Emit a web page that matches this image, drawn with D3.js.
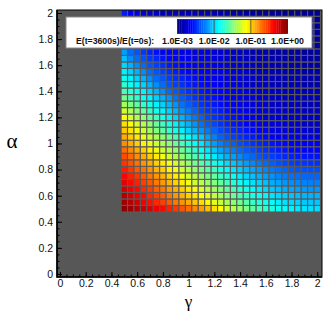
<!DOCTYPE html>
<html>
<head>
<meta charset="utf-8">
<script src="https://cdn.jsdelivr.net/npm/d3@7/dist/d3.min.js"></script>
<style>
	body { margin: 0; background: #fff; }
	text { font-family: 'Liberation Sans', Arial, sans-serif; }
</style>
</head>
<body>
<div id="chart"></div>
<script>
// grid of the run parameters
var gammaVals = [0.5, 0.55, 0.6, 0.65, 0.7, 0.75, 0.8, 0.85, 0.9, 0.95, 1.0, 1.05, 1.1, 1.15, 1.2, 1.25,
	1.3, 1.35, 1.4, 1.45, 1.5, 1.55, 1.6, 1.65, 1.7, 1.75, 1.8, 1.85, 1.9, 1.95, 2.0];
var alphaVals = [0.5, 0.55, 0.6, 0.65, 0.7, 0.75, 0.8, 0.85, 0.9, 0.95, 1.0, 1.05, 1.1, 1.15, 1.2, 1.25,
	1.3, 1.35, 1.4, 1.45, 1.5, 1.55, 1.6, 1.65, 1.7, 1.75, 1.8, 1.85, 1.9, 1.95, 2.0];

// log10 of E(t=3600s)/E(t=0s), one row per alpha (row 0 = alpha 0.5), one column per gamma
var logRatio = [
	[-0.04,-0.09,-0.15,-0.21,-0.26,-0.32,-0.39,-0.47,-0.54,-0.62,-0.69,-0.77,-0.84,-0.94,-1.03,-1.13,-1.24,-1.34,-1.43,-1.52,-1.6,-1.67,-1.73,-1.79,-1.84,-1.88,-1.91,-1.94,-1.96,-1.97,-1.97],
	[-0.09,-0.17,-0.24,-0.34,-0.41,-0.49,-0.56,-0.64,-0.73,-0.81,-0.88,-0.96,-1.03,-1.13,-1.2,-1.28,-1.38,-1.47,-1.55,-1.63,-1.7,-1.77,-1.82,-1.87,-1.92,-1.96,-1.99,-2.01,-2.03,-2.04,-2.04],
	[-0.15,-0.23,-0.32,-0.39,-0.49,-0.56,-0.64,-0.73,-0.81,-0.9,-0.98,-1.05,-1.14,-1.22,-1.31,-1.39,-1.48,-1.57,-1.65,-1.72,-1.79,-1.84,-1.9,-1.95,-1.99,-2.02,-2.05,-2.07,-2.09,-2.1,-2.1],
	[-0.23,-0.32,-0.39,-0.49,-0.56,-0.66,-0.73,-0.83,-0.9,-0.99,-1.07,-1.16,-1.24,-1.33,-1.41,-1.5,-1.59,-1.67,-1.75,-1.81,-1.88,-1.94,-1.99,-2.03,-2.07,-2.11,-2.13,-2.15,-2.17,-2.18,-2.18],
	[-0.3,-0.39,-0.47,-0.56,-0.64,-0.73,-0.83,-0.9,-0.99,-1.07,-1.16,-1.26,-1.33,-1.43,-1.5,-1.59,-1.68,-1.75,-1.83,-1.9,-1.96,-2.01,-2.06,-2.11,-2.14,-2.18,-2.2,-2.22,-2.24,-2.25,-2.25],
	[-0.38,-0.47,-0.54,-0.64,-0.73,-0.81,-0.9,-0.99,-1.07,-1.16,-1.26,-1.33,-1.43,-1.52,-1.59,-1.69,-1.77,-1.85,-1.92,-1.99,-2.05,-2.1,-2.15,-2.19,-2.23,-2.26,-2.29,-2.3,-2.32,-2.33,-2.33],
	[-0.45,-0.54,-0.64,-0.71,-0.81,-0.9,-0.99,-1.09,-1.16,-1.26,-1.35,-1.44,-1.54,-1.61,-1.71,-1.8,-1.88,-1.95,-2.02,-2.08,-2.13,-2.18,-2.23,-2.27,-2.3,-2.33,-2.36,-2.38,-2.39,-2.4,-2.4],
	[-0.53,-0.62,-0.71,-0.81,-0.88,-0.98,-1.07,-1.16,-1.26,-1.35,-1.44,-1.54,-1.61,-1.71,-1.8,-1.89,-1.97,-2.04,-2.1,-2.16,-2.22,-2.27,-2.31,-2.35,-2.39,-2.42,-2.44,-2.46,-2.47,-2.48,-2.48],
	[-0.6,-0.69,-0.79,-0.88,-0.98,-1.07,-1.16,-1.26,-1.37,-1.46,-1.56,-1.65,-1.74,-1.84,-1.93,-2.03,-2.1,-2.16,-2.22,-2.28,-2.33,-2.38,-2.42,-2.45,-2.48,-2.51,-2.53,-2.55,-2.56,-2.57,-2.57],
	[-0.69,-0.79,-0.88,-0.98,-1.09,-1.18,-1.28,-1.37,-1.46,-1.56,-1.65,-1.74,-1.86,-1.95,-2.04,-2.14,-2.2,-2.26,-2.32,-2.37,-2.41,-2.45,-2.49,-2.52,-2.55,-2.58,-2.6,-2.61,-2.62,-2.63,-2.63],
	[-0.79,-0.88,-0.98,-1.09,-1.18,-1.28,-1.37,-1.46,-1.58,-1.67,-1.76,-1.86,-1.95,-2.06,-2.16,-2.25,-2.3,-2.35,-2.4,-2.44,-2.48,-2.51,-2.54,-2.57,-2.59,-2.61,-2.63,-2.64,-2.65,-2.66,-2.66],
	[-0.88,-0.98,-1.07,-1.18,-1.28,-1.37,-1.46,-1.56,-1.67,-1.76,-1.86,-1.95,-2.04,-2.16,-2.25,-2.34,-2.39,-2.44,-2.48,-2.52,-2.55,-2.58,-2.61,-2.64,-2.66,-2.68,-2.69,-2.71,-2.71,-2.72,-2.72],
	[-0.96,-1.05,-1.16,-1.28,-1.39,-1.5,-1.61,-1.73,-1.82,-1.91,-2.01,-2.1,-2.19,-2.27,-2.34,-2.42,-2.46,-2.51,-2.54,-2.58,-2.61,-2.64,-2.66,-2.69,-2.71,-2.72,-2.74,-2.75,-2.75,-2.76,-2.76],
	[-1.03,-1.13,-1.24,-1.35,-1.46,-1.58,-1.69,-1.8,-1.91,-2.01,-2.1,-2.19,-2.29,-2.36,-2.42,-2.48,-2.52,-2.56,-2.59,-2.62,-2.65,-2.67,-2.7,-2.72,-2.73,-2.75,-2.76,-2.77,-2.78,-2.78,-2.78],
	[-1.13,-1.24,-1.35,-1.46,-1.58,-1.69,-1.8,-1.91,-2.01,-2.1,-2.19,-2.27,-2.34,-2.42,-2.48,-2.51,-2.55,-2.58,-2.61,-2.64,-2.67,-2.7,-2.72,-2.74,-2.75,-2.77,-2.78,-2.79,-2.8,-2.8,-2.8],
	[-1.28,-1.37,-1.48,-1.59,-1.71,-1.82,-1.91,-2.01,-2.1,-2.19,-2.27,-2.34,-2.42,-2.48,-2.51,-2.55,-2.59,-2.62,-2.65,-2.67,-2.7,-2.72,-2.74,-2.76,-2.78,-2.79,-2.8,-2.81,-2.82,-2.82,-2.82],
	[-1.41,-1.5,-1.61,-1.73,-1.82,-1.91,-2.01,-2.1,-2.19,-2.29,-2.36,-2.42,-2.48,-2.52,-2.56,-2.59,-2.62,-2.65,-2.68,-2.7,-2.72,-2.74,-2.76,-2.78,-2.79,-2.8,-2.81,-2.82,-2.83,-2.83,-2.83],
	[-1.54,-1.65,-1.74,-1.84,-1.91,-2.01,-2.1,-2.19,-2.29,-2.36,-2.42,-2.48,-2.52,-2.56,-2.59,-2.62,-2.65,-2.68,-2.7,-2.72,-2.74,-2.76,-2.78,-2.79,-2.81,-2.82,-2.82,-2.83,-2.84,-2.84,-2.84],
	[-1.65,-1.74,-1.84,-1.91,-2.01,-2.1,-2.21,-2.31,-2.36,-2.42,-2.48,-2.52,-2.56,-2.59,-2.62,-2.63,-2.66,-2.68,-2.71,-2.73,-2.75,-2.77,-2.79,-2.8,-2.82,-2.83,-2.83,-2.84,-2.85,-2.85,-2.85],
	[-1.74,-1.84,-1.91,-2.01,-2.1,-2.21,-2.31,-2.38,-2.44,-2.48,-2.53,-2.56,-2.59,-2.62,-2.63,-2.65,-2.68,-2.7,-2.73,-2.75,-2.77,-2.78,-2.8,-2.81,-2.83,-2.84,-2.85,-2.85,-2.86,-2.86,-2.86],
	[-1.84,-1.91,-2.01,-2.1,-2.21,-2.31,-2.38,-2.44,-2.49,-2.53,-2.57,-2.6,-2.63,-2.64,-2.66,-2.67,-2.7,-2.72,-2.74,-2.76,-2.78,-2.8,-2.81,-2.83,-2.84,-2.85,-2.86,-2.86,-2.87,-2.87,-2.87],
	[-1.91,-2.01,-2.1,-2.21,-2.31,-2.38,-2.44,-2.49,-2.55,-2.59,-2.62,-2.63,-2.65,-2.66,-2.68,-2.69,-2.71,-2.74,-2.76,-2.78,-2.8,-2.81,-2.83,-2.84,-2.85,-2.86,-2.87,-2.87,-2.88,-2.88,-2.88],
	[-1.99,-2.1,-2.21,-2.31,-2.38,-2.44,-2.49,-2.55,-2.59,-2.62,-2.63,-2.65,-2.67,-2.68,-2.7,-2.71,-2.73,-2.75,-2.77,-2.79,-2.81,-2.83,-2.84,-2.85,-2.86,-2.87,-2.88,-2.88,-2.89,-2.89,-2.89],
	[-2.06,-2.21,-2.31,-2.38,-2.46,-2.51,-2.57,-2.61,-2.63,-2.64,-2.66,-2.68,-2.69,-2.7,-2.72,-2.73,-2.75,-2.77,-2.79,-2.81,-2.83,-2.84,-2.85,-2.86,-2.87,-2.88,-2.89,-2.89,-2.9,-2.9,-2.9],
	[-2.16,-2.31,-2.38,-2.46,-2.53,-2.59,-2.63,-2.64,-2.66,-2.68,-2.69,-2.7,-2.71,-2.72,-2.73,-2.75,-2.77,-2.79,-2.81,-2.82,-2.84,-2.85,-2.87,-2.88,-2.88,-2.89,-2.9,-2.9,-2.91,-2.91,-2.91],
	[-2.23,-2.36,-2.43,-2.5,-2.56,-2.61,-2.64,-2.66,-2.68,-2.69,-2.7,-2.71,-2.72,-2.73,-2.74,-2.76,-2.78,-2.8,-2.82,-2.83,-2.85,-2.86,-2.88,-2.89,-2.89,-2.9,-2.91,-2.91,-2.92,-2.92,-2.92],
	[-2.3,-2.41,-2.48,-2.54,-2.59,-2.63,-2.66,-2.68,-2.7,-2.71,-2.72,-2.73,-2.74,-2.75,-2.76,-2.77,-2.79,-2.81,-2.82,-2.84,-2.85,-2.87,-2.88,-2.89,-2.9,-2.9,-2.91,-2.91,-2.92,-2.92,-2.92],
	[-2.37,-2.46,-2.52,-2.57,-2.62,-2.65,-2.68,-2.7,-2.71,-2.72,-2.73,-2.74,-2.75,-2.76,-2.77,-2.78,-2.8,-2.82,-2.83,-2.85,-2.86,-2.88,-2.89,-2.9,-2.91,-2.91,-2.92,-2.92,-2.93,-2.93,-2.93],
	[-2.43,-2.5,-2.56,-2.6,-2.64,-2.67,-2.7,-2.71,-2.72,-2.73,-2.74,-2.75,-2.76,-2.77,-2.78,-2.79,-2.81,-2.83,-2.84,-2.86,-2.87,-2.88,-2.89,-2.9,-2.91,-2.91,-2.92,-2.92,-2.93,-2.93,-2.93],
	[-2.49,-2.55,-2.6,-2.64,-2.67,-2.7,-2.72,-2.73,-2.74,-2.75,-2.76,-2.77,-2.78,-2.79,-2.8,-2.81,-2.83,-2.84,-2.86,-2.87,-2.88,-2.89,-2.9,-2.91,-2.92,-2.93,-2.93,-2.94,-2.94,-2.94,-2.94],
	[-2.55,-2.64,-2.7,-2.74,-2.78,-2.79,-2.81,-2.82,-2.82,-2.83,-2.83,-2.84,-2.84,-2.85,-2.85,-2.86,-2.87,-2.88,-2.89,-2.9,-2.9,-2.91,-2.92,-2.92,-2.93,-2.93,-2.93,-2.94,-2.94,-2.94,-2.94]
];

var axisTicks = [0, 0.2, 0.4, 0.6, 0.8, 1, 1.2, 1.4, 1.6, 1.8, 2];
var legendTicks = [-3, -2, -1, 0];
var legendLabels = ['1.0E-03', '1.0E-02', '1.0E-01', '1.0E+00'];
var legendTitle = 'E(t=3600s)/E(t=0s):';

var width = 332, height = 316;
var plot = {left: 57, right: 322, top: 10, bottom: 277};
var half = 0.025;

var x = d3.scaleLinear().domain([-0.0233, 2.037]).range([plot.left, plot.right]);
var y = d3.scaleLinear().domain([-0.0233, 2.023]).range([plot.bottom, plot.top]);
var cscale = d3.scaleLinear().domain([-3, 0]).range([0, 1]).clamp(true);

function jet(t) {
	function c(v) { return Math.max(0, Math.min(1, v)); }
	var r = c(1.5 - Math.abs(4 * t - 3)),
		g = c(1.5 - Math.abs(4 * t - 2)),
		b = c(1.5 - Math.abs(4 * t - 1));
	return d3.rgb(r * 255, g * 255, b * 255).toString();
}

var svg = d3.select('#chart').append('svg')
	.attr('width', width)
	.attr('height', height);

svg.append('defs').append('clipPath')
	.attr('id', 'plotclip')
	.append('rect')
	.attr('x', plot.left)
	.attr('y', plot.top)
	.attr('width', plot.right - plot.left)
	.attr('height', plot.bottom - plot.top);

// gray background of the plot region
svg.append('rect')
	.attr('x', plot.left)
	.attr('y', plot.top)
	.attr('width', plot.right - plot.left)
	.attr('height', plot.bottom - plot.top)
	.attr('fill', '#575757');

// cells
var cells = [];
logRatio.forEach(function(row, j) {
	row.forEach(function(v, i) {
		cells.push({g: gammaVals[i], a: alphaVals[j], v: v});
	});
});

svg.append('g')
	.attr('clip-path', 'url(#plotclip)')
	.selectAll('rect')
	.data(cells)
	.enter().append('rect')
	.attr('x', function(d) { return x(d.g - half); })
	.attr('y', function(d) { return y(d.a + half); })
	.attr('width', function(d) { return x(d.g + half) - x(d.g - half); })
	.attr('height', function(d) { return y(d.a - half) - y(d.a + half); })
	.attr('fill', function(d) { return jet(cscale(d.v)); })
	.attr('stroke', '#5a5a5a')
	.attr('stroke-width', 1.1);

// minor and major ticks, pointing inwards
var minorVals = d3.range(0, 41).map(function(k) { return k * 0.05; });

var xMinor = svg.append('g')
	.attr('transform', 'translate(0,' + plot.bottom + ')')
	.call(d3.axisBottom(x).tickValues(minorVals).tickSize(-2.5).tickFormat(''));
var xMajor = svg.append('g')
	.attr('transform', 'translate(0,' + plot.bottom + ')')
	.call(d3.axisBottom(x).tickValues(axisTicks).tickSize(-5).tickPadding(3)
		.tickFormat(function(d) { return d3.format('')(d); }));
var yMinor = svg.append('g')
	.attr('transform', 'translate(' + plot.left + ',0)')
	.call(d3.axisLeft(y).tickValues(minorVals).tickSize(-2.5).tickFormat(''));
var yMajor = svg.append('g')
	.attr('transform', 'translate(' + plot.left + ',0)')
	.call(d3.axisLeft(y).tickValues(axisTicks).tickSize(-5).tickPadding(4)
		.tickFormat(function(d) { return d3.format('')(d); }));

[xMinor, xMajor, yMinor, yMajor].forEach(function(g) {
	g.select('.domain').remove();
	g.selectAll('line').attr('stroke', '#000').attr('stroke-width', 1);
	g.selectAll('text')
		.attr('fill', '#111')
		.style('font-size', '10.5px')
		.style('font-family', "'Liberation Sans', Arial, sans-serif");
});

// frame
svg.append('rect')
	.attr('x', plot.left)
	.attr('y', plot.top)
	.attr('width', plot.right - plot.left)
	.attr('height', plot.bottom - plot.top)
	.attr('fill', 'none')
	.attr('stroke', '#000')
	.attr('stroke-width', 1);
svg.append('path')
	.attr('d', 'M' + plot.left + ',' + plot.top + 'V' + plot.bottom + 'H' + plot.right)
	.attr('fill', 'none')
	.attr('stroke', '#000')
	.attr('stroke-width', 1.6);

// axis titles
svg.append('text')
	.attr('x', x(1))
	.attr('y', 307)
	.attr('text-anchor', 'middle')
	.style('font-family', "'Liberation Serif', 'DejaVu Serif', serif")
	.style('font-size', '17px')
	.text('γ');
svg.append('text')
	.attr('x', 12)
	.attr('y', y(1) + 5)
	.attr('text-anchor', 'middle')
	.style('font-family', "'Liberation Serif', 'DejaVu Serif', serif")
	.style('font-size', '21px')
	.text('α');

// legend
var legend = svg.append('g');
legend.append('rect')
	.attr('x', 66)
	.attr('y', 17)
	.attr('width', 246)
	.attr('height', 31)
	.attr('fill', '#fff')
	.attr('stroke', '#8a8a8a')
	.attr('stroke-width', 1);

var lx = d3.scaleLinear().domain([-3, 0]).range([177.5, 287.5]);
var bands = d3.range(0, 60).map(function(k) { return -3 + k * 0.05; });
legend.selectAll('.band')
	.data(bands)
	.enter().append('rect')
	.attr('class', 'band')
	.attr('x', function(d) { return lx(d); })
	.attr('y', 19.5)
	.attr('width', function(d) { return lx(d + 0.05) - lx(d) + 0.3; })
	.attr('height', 14)
	.attr('fill', function(d) { return jet(cscale(d + 0.025)); });
legend.selectAll('.divider')
	.data(legendTicks.slice(1, 3))
	.enter().append('line')
	.attr('class', 'divider')
	.attr('x1', function(d) { return lx(d); })
	.attr('x2', function(d) { return lx(d); })
	.attr('y1', 19.5)
	.attr('y2', 33.5)
	.attr('stroke', '#444')
	.attr('stroke-width', 0.8);
legend.append('rect')
	.attr('x', lx(-3))
	.attr('y', 19.5)
	.attr('width', lx(0) - lx(-3))
	.attr('height', 14)
	.attr('fill', 'none')
	.attr('stroke', '#222')
	.attr('stroke-width', 0.8);

legend.selectAll('.ltick')
	.data(legendTicks)
	.enter().append('text')
	.attr('class', 'ltick')
	.attr('x', function(d) { return lx(d); })
	.attr('y', 44)
	.attr('text-anchor', 'middle')
	.style('font-size', '8.8px')
	.style('font-weight', 'bold')
	.attr('fill', '#111')
	.text(function(d, i) { return legendLabels[i]; });
legend.append('text')
	.attr('x', 76)
	.attr('y', 44)
	.style('font-size', '8.7px')
	.style('font-weight', 'bold')
	.attr('fill', '#111')
	.text(legendTitle);
</script>
</body>
</html>
